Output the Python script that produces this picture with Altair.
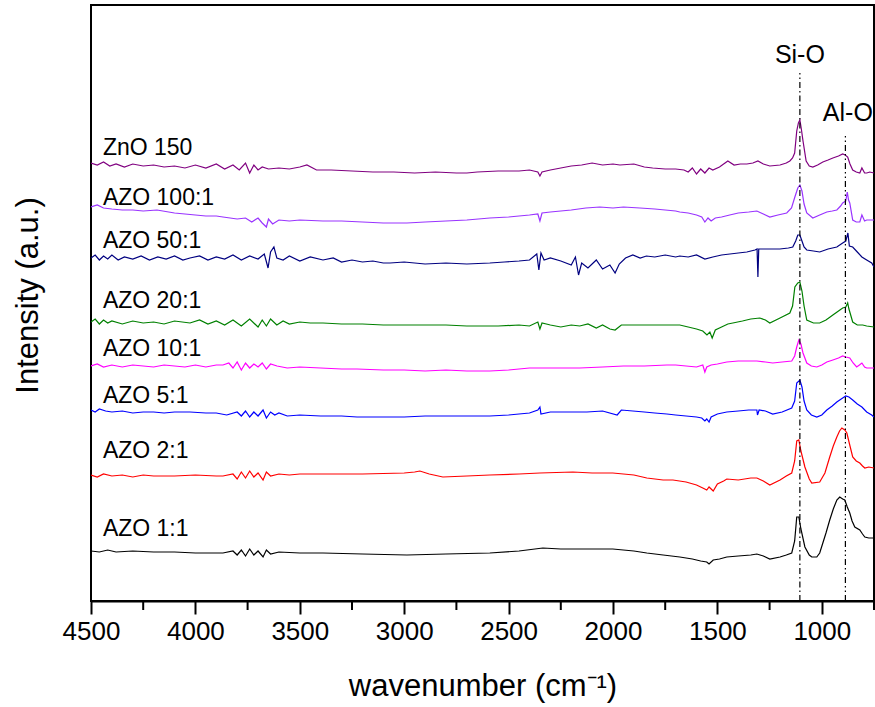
import altair as alt
import pandas as pd

FONT = "Liberation Sans"

series_names = ["ZnO 150", "AZO 100:1", "AZO 50:1", "AZO 20:1",
                "AZO 10:1", "AZO 5:1", "AZO 2:1", "AZO 1:1"]
series_colors = ["#800080", "#9933FF", "#000080", "#008000",
                 "#FF00FF", "#0000FF", "#FF0000", "#000000"]

zno150_wn = [4500, 4470, 4440, 4410, 4380, 4340, 4300, 4250, 4200, 4150, 4100, 4050, 4000, 3950, 3900, 3860, 3820, 3790, 3760, 3740, 3720, 3700, 3680, 3650, 3600, 3550, 3500, 3466, 3420, 3350, 3250, 3150, 3050, 2950, 2850, 2750, 2700, 2650, 2550, 2450, 2400, 2360, 2350, 2340, 2300, 2250, 2200, 2150, 2100, 2050, 2000, 1967, 1900, 1850, 1810, 1750, 1700, 1660, 1640, 1620, 1600, 1580, 1560, 1540, 1522, 1490, 1450, 1420, 1390, 1359, 1330, 1306, 1280, 1249, 1200, 1170, 1153, 1140, 1130, 1120, 1112, 1105, 1098, 1090, 1075, 1060, 1043, 1020, 995, 970, 947, 920, 900, 888, 876, 865, 852, 835, 818, 808, 795, 785, 770, 750]
zno150_int = [438, 436, 439, 435, 437, 434, 437, 435, 436, 434, 435, 433, 436, 433, 437, 432, 436, 431, 438, 428, 436, 431, 434, 432, 433, 432, 434, 436, 431, 431, 430, 429, 429, 428, 429, 428, 428, 429, 430, 430, 431, 429, 425, 429, 431, 433, 435, 436, 438, 436, 437, 436, 437, 434, 433, 432, 432, 431, 429, 433, 427, 432, 428, 433, 431, 434, 440, 436, 437, 437, 438, 440, 437, 435, 436, 438, 440, 443, 448, 470, 478, 481, 472, 460, 440, 435, 434, 436, 439, 441, 443, 445, 447, 446, 444, 437, 431, 429, 428, 433, 428, 428, 429, 428]

azo100_wn = [4500, 4470, 4440, 4400, 4350, 4300, 4250, 4184, 4100, 4000, 3950, 3900, 3868, 3800, 3760, 3730, 3700, 3680, 3660, 3650, 3630, 3600, 3550, 3500, 3389, 3300, 3200, 3100, 2987, 2900, 2800, 2700, 2590, 2500, 2450, 2400, 2360, 2350, 2340, 2300, 2200, 2130, 2063, 2000, 1950, 1871, 1800, 1750, 1700, 1680, 1640, 1600, 1575, 1560, 1545, 1530, 1510, 1480, 1441, 1400, 1350, 1311, 1280, 1249, 1210, 1168, 1145, 1129, 1115, 1105, 1095, 1085, 1072, 1043, 1010, 976, 950, 928, 910, 900, 885, 878, 872, 866, 852, 835, 818, 808, 795, 785, 750]
azo100_int = [394, 396, 393, 392, 391, 391, 390, 391, 388, 386, 385, 385, 384, 382, 383, 379, 383, 378, 374, 382, 377, 381, 380, 381, 380, 380, 379, 378, 378, 379, 380, 381, 383, 384, 385, 386, 387, 380, 388, 389, 391, 393, 394, 393, 394, 393, 392, 391, 390, 389, 388, 386, 384, 379, 383, 380, 383, 384, 386, 388, 389, 390, 387, 384, 386, 388, 393, 404, 413, 416, 410, 397, 388, 383, 386, 389, 390, 391, 395, 398, 400, 409, 401, 398, 381, 379, 379, 386, 380, 381, 381]

azo50_wn = [4500, 4480, 4460, 4440, 4420, 4400, 4370, 4340, 4300, 4260, 4220, 4180, 4140, 4100, 4060, 4026, 3980, 3940, 3900, 3860, 3820, 3780, 3740, 3700, 3670, 3652, 3640, 3624, 3610, 3580, 3550, 3500, 3450, 3389, 3340, 3300, 3250, 3200, 3150, 3100, 3068, 3000, 2900, 2800, 2700, 2590, 2520, 2450, 2400, 2365, 2355, 2345, 2330, 2300, 2250, 2200, 2180, 2165, 2150, 2120, 2080, 2050, 2015, 1990, 1970, 1940, 1905, 1870, 1840, 1800, 1750, 1700, 1680, 1640, 1600, 1560, 1522, 1480, 1440, 1400, 1359, 1320, 1310, 1306, 1302, 1250, 1201, 1160, 1139, 1125, 1115, 1105, 1095, 1085, 1072, 1040, 1010, 970, 928, 900, 885, 875, 868, 852, 830, 808, 785, 761, 750]
azo50_int = [343, 346, 341, 345, 342, 346, 341, 344, 342, 345, 341, 344, 342, 345, 341, 343, 345, 341, 344, 342, 346, 341, 345, 342, 347, 333, 349, 354, 343, 341, 345, 340, 344, 341, 343, 339, 341, 339, 340, 338, 338, 339, 337, 338, 337, 338, 339, 340, 341, 347, 331, 348, 341, 343, 340, 336, 344, 326, 338, 333, 341, 332, 336, 328, 337, 343, 346, 343, 345, 344, 346, 344, 345, 344, 346, 342, 344, 346, 347, 348, 349, 351, 352, 324, 352, 352, 352, 353, 354, 360, 366, 366, 360, 354, 351, 350, 349, 352, 354, 358, 360, 368, 355, 354, 349, 344, 341, 338, 334]

azo20_wn = [4500, 4480, 4460, 4440, 4420, 4400, 4350, 4300, 4250, 4200, 4150, 4100, 4026, 3980, 3940, 3900, 3860, 3820, 3780, 3740, 3700, 3680, 3660, 3640, 3610, 3580, 3550, 3500, 3450, 3389, 3300, 3200, 3100, 3000, 2900, 2800, 2700, 2638, 2550, 2450, 2400, 2360, 2350, 2340, 2300, 2250, 2200, 2159, 2120, 2080, 2050, 2015, 1990, 1960, 1919, 1850, 1800, 1750, 1700, 1680, 1640, 1600, 1570, 1550, 1536, 1525, 1510, 1480, 1450, 1426, 1380, 1340, 1297, 1270, 1249, 1200, 1153, 1140, 1129, 1115, 1105, 1095, 1085, 1072, 1040, 1010, 980, 947, 920, 900, 885, 876, 870, 852, 830, 804, 785, 750]
azo20_int = [279, 282, 277, 281, 278, 280, 277, 280, 278, 279, 277, 280, 278, 281, 277, 280, 276, 281, 275, 282, 274, 281, 275, 282, 276, 280, 277, 279, 278, 278, 277, 277, 276, 276, 276, 276, 275, 275, 275, 276, 275, 279, 272, 278, 276, 274, 276, 275, 277, 273, 276, 272, 271, 276, 276, 276, 276, 276, 276, 276, 274, 272, 270, 266, 269, 263, 271, 274, 277, 278, 280, 282, 283, 281, 278, 283, 288, 295, 314, 318, 319, 310, 295, 281, 278, 278, 281, 286, 290, 293, 294, 298, 292, 279, 276, 276, 275, 274]

azo10_wn = [4500, 4470, 4440, 4400, 4350, 4300, 4250, 4200, 4150, 4100, 4050, 4000, 3950, 3900, 3868, 3840, 3820, 3800, 3780, 3760, 3740, 3720, 3700, 3680, 3660, 3640, 3609, 3560, 3500, 3400, 3300, 3226, 3100, 3000, 2900, 2800, 2700, 2590, 2500, 2450, 2400, 2350, 2300, 2159, 2050, 1950, 1850, 1742, 1700, 1650, 1600, 1570, 1560, 1551, 1530, 1500, 1455, 1400, 1350, 1311, 1270, 1235, 1190, 1144, 1130, 1120, 1110, 1100, 1090, 1072, 1050, 1024, 1000, 976, 947, 920, 900, 885, 866, 850, 833, 820, 808, 795, 785, 750]
azo10_int = [235, 237, 234, 236, 234, 236, 235, 234, 236, 235, 234, 236, 234, 236, 236, 238, 233, 239, 231, 238, 233, 237, 234, 238, 232, 237, 235, 233, 234, 233, 232, 232, 231, 231, 230, 231, 230, 230, 231, 232, 233, 233, 233, 233, 234, 235, 235, 236, 236, 235, 234, 236, 229, 234, 236, 237, 239, 240, 240, 240, 239, 238, 239, 240, 245, 254, 261, 257, 248, 238, 235, 234, 236, 239, 241, 243, 245, 244, 243, 238, 234, 236, 238, 234, 233, 233]

azo5_wn = [4500, 4480, 4460, 4430, 4400, 4350, 4300, 4250, 4200, 4150, 4100, 4026, 3950, 3900, 3850, 3800, 3780, 3760, 3740, 3720, 3700, 3676, 3660, 3640, 3620, 3600, 3560, 3500, 3400, 3300, 3226, 3100, 3000, 2900, 2800, 2700, 2590, 2500, 2450, 2400, 2360, 2350, 2345, 2300, 2200, 2125, 2050, 1980, 1960, 1905, 1850, 1800, 1742, 1700, 1650, 1600, 1575, 1560, 1551, 1540, 1530, 1500, 1455, 1400, 1350, 1311, 1308, 1300, 1270, 1235, 1190, 1144, 1130, 1120, 1105, 1095, 1085, 1072, 1050, 1024, 1000, 976, 950, 928, 900, 885, 870, 852, 830, 808, 785, 761, 750]
azo5_int = [191, 189, 192, 190, 189, 190, 188, 189, 189, 188, 189, 189, 188, 188, 186, 189, 185, 190, 184, 189, 185, 191, 183, 189, 186, 188, 185, 186, 185, 185, 184, 184, 184, 185, 185, 185, 185, 186, 187, 188, 191, 194, 187, 189, 189, 189, 190, 186, 191, 190, 189, 188, 187, 186, 185, 184, 183, 180, 182, 179, 184, 187, 189, 190, 191, 191, 186, 191, 190, 187, 189, 193, 200, 218, 221, 214, 200, 191, 186, 184, 186, 191, 195, 199, 203, 205, 204, 201, 197, 194, 189, 186, 184]

azo2_wn = [4500, 4470, 4440, 4400, 4350, 4300, 4250, 4200, 4100, 4000, 3900, 3868, 3820, 3800, 3780, 3760, 3740, 3720, 3700, 3676, 3660, 3640, 3600, 3550, 3500, 3389, 3200, 3000, 2950, 2925, 2880, 2815, 2700, 2590, 2450, 2350, 2192, 2100, 2001, 1900, 1838, 1760, 1713, 1650, 1600, 1570, 1551, 1540, 1520, 1500, 1470, 1455, 1400, 1340, 1311, 1280, 1249, 1200, 1170, 1144, 1130, 1120, 1110, 1100, 1081, 1060, 1048, 1010, 985, 962, 945, 928, 915, 904, 890, 880, 865, 852, 835, 818, 805, 794, 775, 750]
azo2_int = [126, 124, 127, 125, 126, 124, 126, 125, 125, 126, 125, 125, 127, 122, 129, 123, 130, 124, 128, 121, 129, 125, 127, 126, 127, 127, 127, 128, 129, 130, 127, 124, 125, 126, 127, 128, 129, 128, 128, 126, 123, 121, 121, 119, 116, 113, 111, 114, 110, 117, 120, 122, 121, 123, 123, 120, 116, 121, 125, 128, 140, 160, 161, 150, 134, 122, 118, 119, 128, 144, 155, 164, 170, 173, 171, 168, 155, 144, 140, 138, 135, 133, 134, 133]

azo1_wn = [4500, 4460, 4420, 4380, 4300, 4200, 4100, 4000, 3868, 3820, 3800, 3780, 3760, 3740, 3720, 3700, 3676, 3660, 3640, 3600, 3500, 3389, 3200, 2987, 2800, 2590, 2450, 2336, 2250, 2159, 2001, 1900, 1838, 1760, 1680, 1620, 1580, 1551, 1540, 1520, 1490, 1455, 1400, 1340, 1311, 1280, 1249, 1200, 1170, 1144, 1130, 1120, 1110, 1100, 1081, 1060, 1048, 1024, 1010, 995, 980, 962, 945, 928, 914, 900, 890, 878, 866, 855, 842, 818, 805, 794, 775, 750]
azo1_int = [50, 49, 51, 49, 50, 49, 49, 48, 48, 50, 46, 51, 45, 52, 46, 50, 44, 51, 47, 49, 48, 48, 47, 46, 47, 48, 50, 53, 52, 52, 52, 50, 48, 46, 44, 42, 40, 39, 37, 41, 42, 44, 45, 46, 47, 45, 42, 44, 46, 48, 60, 84, 84, 72, 54, 46, 44, 44, 48, 58, 68, 81, 92, 101, 104, 102, 101, 94, 88, 80, 74, 71, 67, 64, 63, 63]

series_wn = [zno150_wn, azo100_wn, azo50_wn, azo20_wn, azo10_wn, azo5_wn, azo2_wn, azo1_wn]
series_int = [zno150_int, azo100_int, azo50_int, azo20_int, azo10_int, azo5_int, azo2_int, azo1_int]

# series label positions (wavenumber, intensity)
label_wn = [4443] * 8
label_int = [446, 396, 353, 293, 245, 198, 143, 65]

# peak markers
peak_names = ["Si-O", "Al-O"]
peak_wn = [1105, 887]
peak_line_top = [528, 468]
peak_text_wn = [1105, 995]
peak_text_int = [538, 480]

major_ticks = [4500, 4000, 3500, 3000, 2500, 2000, 1500, 1000]
minor_ticks = [4250, 3750, 3250, 2750, 2250, 1750, 1250, 750]

rows = []
for name, wn, it in zip(series_names, series_wn, series_int):
    for w, v in zip(wn, it):
        rows.append({"sample": name, "wavenumber": w, "intensity": v})
df = pd.DataFrame(rows)

labels_df = pd.DataFrame({"wavenumber": label_wn, "intensity": label_int, "text": series_names})
sio_line = pd.DataFrame({"wavenumber": [peak_wn[0]], "intensity": [0], "intensity2": [peak_line_top[0]]})
alo_line = pd.DataFrame({"wavenumber": [peak_wn[1]], "intensity": [0], "intensity2": [peak_line_top[1]]})
sio_text = pd.DataFrame({"wavenumber": [peak_text_wn[0]], "intensity": [peak_text_int[0]], "text": [peak_names[0]]})
alo_text = pd.DataFrame({"wavenumber": [peak_text_wn[1]], "intensity": [peak_text_int[1]], "text": [peak_names[1]]})
minor_df = pd.DataFrame({"wavenumber": minor_ticks})

xscale = alt.Scale(domain=[750, 4500], reverse=True, nice=False, zero=False)
yscale = alt.Scale(domain=[0, 596], nice=False, zero=False)

x_axis = alt.Axis(values=major_ticks, format="d", title="wavenumber (cm⁻¹)",
                  grid=False, domainColor="black", domainWidth=2,
                  tickColor="black", tickWidth=2, tickSize=13,
                  labelFont=FONT, labelFontSize=26, labelColor="black", labelPadding=4,
                  labelFlush=False, labelOverlap=False,
                  titleFont=FONT, titleFontSize=31, titleFontWeight="normal", titleColor="black",
                  titleBaseline="middle", titleY=85)
y_axis = alt.Axis(title="Intensity (a.u.)", labels=False, ticks=False, domain=False, grid=False,
                  titleFont=FONT, titleFontSize=31, titleFontWeight="normal", titleColor="black",
                  titleX=-63, titleY=290, titleBaseline="middle", titleAlign="center", titleAngle=270)

X = alt.X("wavenumber:Q", scale=xscale, axis=x_axis)
Y = alt.Y("intensity:Q", scale=yscale, axis=y_axis)

lines = alt.Chart(df).mark_line(strokeWidth=1.2, clip=True).encode(
    x=X, y=Y,
    color=alt.Color("sample:N", scale=alt.Scale(domain=series_names, range=series_colors), legend=None),
)

sio_rule = alt.Chart(sio_line).mark_rule(color="black", strokeWidth=1.2, strokeDash=[6, 3, 1.5, 3]).encode(
    x=X, y=Y, y2="intensity2:Q")
alo_rule = alt.Chart(alo_line).mark_rule(color="black", strokeWidth=1.2, strokeDash=[6, 3, 1.5, 3, 1.5, 3]).encode(
    x=X, y=Y, y2="intensity2:Q")

minor = alt.Chart(minor_df).mark_rule(color="black", strokeWidth=2).encode(
    x=X, y=alt.value(596), y2=alt.value(605))

labels = alt.Chart(labels_df).mark_text(align="left", baseline="alphabetic", font=FONT,
                                         fontSize=23, color="black").encode(x=X, y=Y, text="text:N")
sio_lab = alt.Chart(sio_text).mark_text(align="center", baseline="alphabetic", font=FONT,
                                        fontSize=25, color="black").encode(x=X, y=Y, text="text:N")
alo_lab = alt.Chart(alo_text).mark_text(align="left", baseline="alphabetic", font=FONT,
                                        fontSize=25, color="black").encode(x=X, y=Y, text="text:N")

chart = alt.layer(lines, sio_rule, alo_rule, minor, labels, sio_lab, alo_lab).properties(
    width=783, height=596,
    padding={"left": 91, "top": 5, "right": 1, "bottom": 106},
    autosize=alt.AutoSizeParams(type="none"),
    background="white",
).configure_view(stroke="black", strokeWidth=2)

chart.save("out.html", embed_options={"renderer": "svg", "actions": False})
